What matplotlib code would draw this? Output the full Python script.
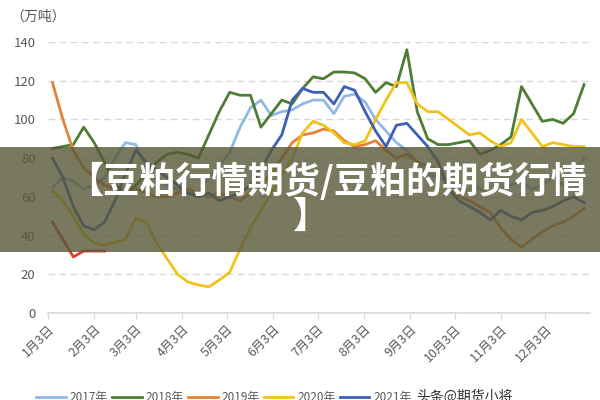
import matplotlib
matplotlib.use("Agg")
import matplotlib.pyplot as plt
from matplotlib.patches import Rectangle

plt.rcParams['font.family'] = ['Noto Sans CJK SC', 'DejaVu Sans']

# ---------------- data ----------------
tick_days = [0, 31, 59, 90, 120, 151, 181, 212, 243, 273, 304, 334]
tick_labels = ["1月3日", "2月3日", "3月3日", "4月3日", "5月3日", "6月3日",
               "7月3日", "8月3日", "9月3日", "10月3日", "11月3日", "12月3日"]
years = ["2017年", "2018年", "2019年", "2020年", "2021年"]

y2017 = [65, 70, 68, 64, 66, 70, 80, 88, 87, 75, 68, 66, 64, 62, 62, 70, 76, 83,
         96, 106, 110, 102, 104, 105, 108, 110, 110, 103, 112, 113, 109, 100, 94,
         88, 84, 78, 72, 70, 68, 66, 68, 64, 62, 64, 66, 68, 64, 66, 70, 66, 72, 80]
y2018 = [85, 86, 87, 96, 88, 78, 66, 62, 66, 72, 78, 82, 83, 82, 80, 92, 104, 114,
         112.5, 112.5, 96, 103, 110, 108, 116, 122, 121, 124.5, 124.5, 124, 121,
         114, 119, 117, 136, 104, 90, 87, 87, 88, 89, 82, 84, 87, 91, 117, 108, 99,
         100, 98, 103, 118]
y2019 = [119, 100, 84, 75, 70, 66, 64, 62, 64, 62, 60, 60, 62, 64, 62, 60, 62, 60,
         58, 62, 66, 72, 80, 88, 92, 93, 95, 94, 89, 86, 87, 89, 84, 80, 82, 78, 76,
         74, 68, 60, 58, 55, 52, 44, 38, 34, 38, 42, 45, 47, 50, 54]
y2020 = [63, 58, 50, 41, 36, 35, 36.5, 38, 49, 47, 36, 28, 20, 16, 14.5, 13.5, 17,
         21, 33, 44, 53, 62, 71, 80, 93, 99, 97, 93, 88, 87, 89, 100, 110, 119, 119,
         108, 104, 104, 100, 96, 92, 93, 89, 86, 88, 100, 93, 86, 88, 87, 86, 86]
y2021 = [80, 70, 55, 45, 43, 47, 58, 72, 84, 78, 74, 70, 66, 62, 60, 62, 58, 60,
         62, 66, 74, 84, 92, 110, 116, 114, 114, 108, 117, 115, 104, 94, 86, 97, 98,
         92, 86, 78, 64, 58, 55, 52, 48, 53, 50, 48, 52, 53, 55, 58, 60, 57]
y2022 = [47, 38, 29, 32, 32, 32]

series = [y2017, y2018, y2019, y2020, y2021]
colors = ["#92B9E6", "#4E7D35", "#E3823A", "#EEC41C", "#3D5FB5"]

# ---------------- figure ----------------
fig = plt.figure(figsize=(6, 4), dpi=100)
ax = fig.add_axes([48 / 600, (400 - 313) / 400, (590 - 48) / 600, (313 - 42) / 400])

for vals, col, lab in zip(series, colors, years):
    days = [3 + 7 * i for i in range(len(vals))]
    ax.plot(days, vals, color=col, lw=2, label=lab, zorder=3)
days22 = [3 + 7 * i for i in range(len(y2022))]
ax.plot(days22, y2022, color="#E23B2E", lw=2, label="_nolegend_", zorder=3)

ax.set_xlim(0, 364)
ax.set_ylim(0, 140)
ax.set_yticks(range(0, 141, 20))
ax.yaxis.grid(True, color="#D9D9D9", linestyle=(0, (5, 3)), lw=1)
ax.set_axisbelow(True)
for s in ["top", "right", "left"]:
    ax.spines[s].set_visible(False)
ax.spines["bottom"].set_color("#D9D9D9")
ax.spines["bottom"].set_linewidth(1.2)
ax.tick_params(axis='y', length=0, pad=9, labelsize=9.5, labelcolor="#595959")
ax.set_xticks(tick_days)
ax.set_xticklabels(tick_labels, rotation=45, ha='right', va='top',
                   rotation_mode='anchor', fontsize=9, color="#595959")
ax.tick_params(axis='x', length=4, color="#D9D9D9", pad=3)

fig.text(10 / 600, 1 - 17 / 400, "（万吨）", fontsize=10, color="#595959",
         ha='left', va='center')
fig.text(305 / 600, 1 + 9 / 400, "图：国内豆粕库存（万吨）", fontsize=11,
         color="#333333", ha='center', va='center')

ax.legend(loc='center', bbox_to_anchor=(224 / 600, 2 / 400), bbox_transform=fig.transFigure,
          ncol=5, frameon=False, fontsize=8.5, labelcolor="#595959",
          handlelength=2.5, handletextpad=0.35, columnspacing=0.35)
fig.text(416 / 600, 3 / 400, "头条@期货小将", fontsize=10, color="#333333",
         ha='left', va='center')

# banner overlay
fig.patches.append(Rectangle((0, (400 - 252) / 400), 1, (252 - 147) / 400,
                             transform=fig.transFigure, facecolor=(88/255, 88/255, 56/255),
                             alpha=0.8, edgecolor='none', zorder=10))
fig.text(327 / 600, 1 - 182 / 400, "【豆粕行情期货/豆粕的期货行情", fontsize=26,
         fontweight='bold', color='white', ha='center', va='center', zorder=11)
fig.text(310 / 600, 1 - 217 / 400, "】", fontsize=26, fontweight='bold',
         color='white', ha='center', va='center', zorder=11)

fig.savefig("out.png", dpi=100)
